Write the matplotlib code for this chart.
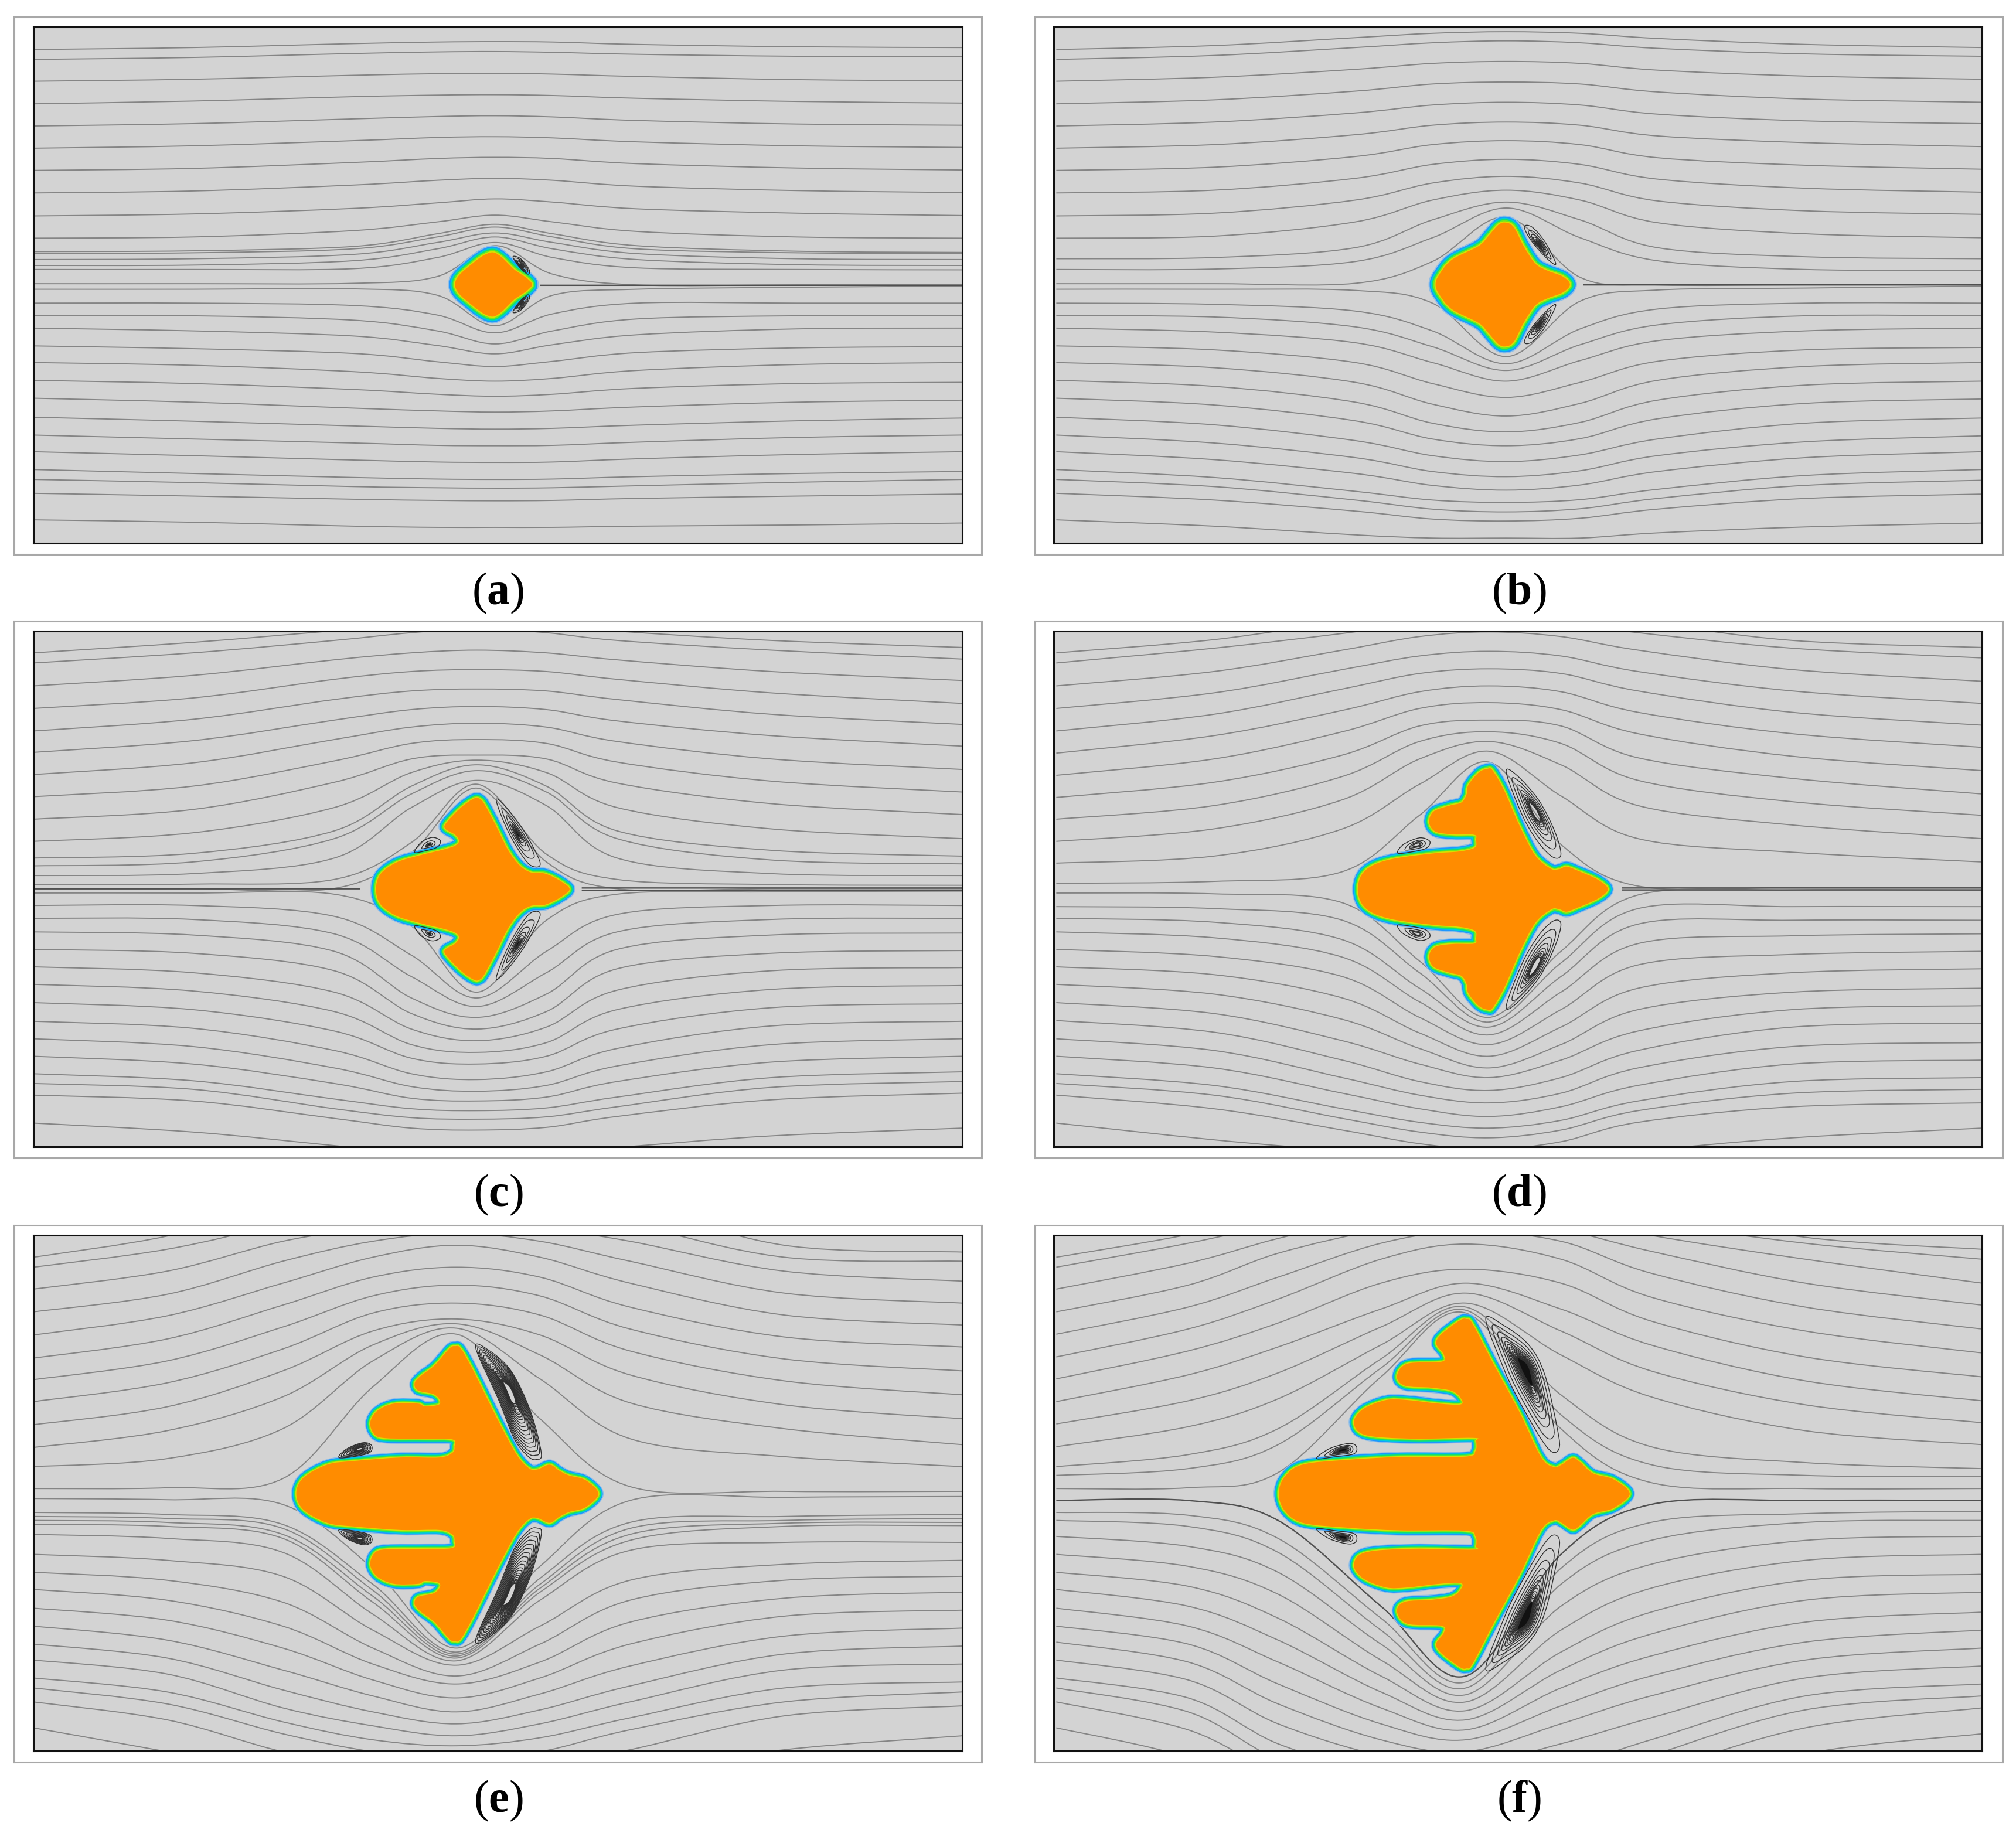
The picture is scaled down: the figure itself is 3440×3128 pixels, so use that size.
import matplotlib
matplotlib.use("Agg")
import matplotlib.pyplot as plt
import numpy as np
from matplotlib.path import Path
from matplotlib.patches import PathPatch

W, H = 3441, 3128
GREY_BG = "#d3d3d3"
LINE = "#858585"
RIM = ["#8fbfe8", "#1e96ff", "#00ccdc", "#10e070", "#70e820", "#d8e000"]
ORANGE = "#ff8c00"

plt.rcParams["font.family"] = ["Liberation Serif", "DejaVu Serif"]
plt.rcParams["mathtext.fontset"] = "custom"
plt.rcParams["mathtext.rm"] = "Liberation Serif"
plt.rcParams["mathtext.bf"] = "Liberation Serif:bold"

labels = ["a", "b", "c", "d", "e", "f"]

# each panel: x columns, then y of every streamline at those columns
a_x = [52, 300, 550, 680, 770, 860, 990, 1240, 1497]
a_lines = [
    [125, 120, 110, 106, 105, 106, 112, 118, 120],
    [150, 145, 135, 131, 130, 132, 137, 142, 143],
    [205, 200, 190, 186, 185, 187, 193, 201, 204],
    [262, 255, 244, 240, 239, 241, 248, 256, 260],
    [318, 312, 300, 294, 292, 295, 304, 313, 316],
    [374, 368, 355, 347, 345, 348, 358, 368, 372],
    [430, 425, 410, 400, 397, 400, 413, 424, 429],
    [487, 482, 467, 455, 450, 455, 470, 481, 486],
    [545, 540, 526, 512, 502, 510, 527, 538, 544],
    [601, 598, 582, 560, 543, 560, 584, 598, 601],
    [635, 633, 622, 590, 566, 590, 620, 634, 637],
    [640, 638, 628, 598, 573, 598, 628, 638, 640],
    [655, 653, 642, 612, 588, 612, 640, 653, 655],
    [670, 669, 658, 628, 598, 628, 655, 668, 670],
    [680, 680, 678, 650, 612, 650, 676, 680, 681],
    [716, 716, 715, 698, 620, 692, 719, 719, 719],
    [730, 730, 729, 745, 822, 745, 730, 725, 722],
    [765, 765, 771, 795, 840, 792, 765, 765, 765],
    [797, 797, 808, 835, 868, 835, 805, 797, 797],
    [828, 835, 848, 872, 893, 870, 845, 830, 828],
    [873, 880, 892, 913, 925, 912, 890, 878, 875],
    [915, 922, 938, 955, 962, 955, 935, 920, 915],
    [960, 968, 983, 995, 1000, 995, 980, 968, 965],
    [1005, 1015, 1030, 1037, 1040, 1037, 1027, 1015, 1010],
    [1053, 1063, 1075, 1081, 1083, 1081, 1073, 1062, 1055],
    [1098, 1108, 1118, 1124, 1125, 1124, 1116, 1104, 1098],
    [1140, 1150, 1161, 1166, 1167, 1166, 1158, 1147, 1140],
    [1185, 1195, 1205, 1209, 1210, 1209, 1203, 1195, 1190],
    [1210, 1218, 1228, 1231, 1232, 1231, 1226, 1217, 1210],
    [1245, 1252, 1260, 1263, 1264, 1263, 1258, 1252, 1247],
    [1312, 1318, 1328, 1331, 1331, 1331, 1328, 1325, 1320],
]
b_x = [75, 320, 540, 660, 775, 890, 1010, 1240, 1515]
b_lines = [
    [125, 115, 95, 84, 80, 84, 97, 112, 120],
    [150, 140, 120, 108, 103, 108, 122, 136, 142],
    [205, 195, 175, 160, 155, 160, 177, 192, 200],
    [262, 252, 230, 212, 207, 212, 232, 250, 258],
    [318, 308, 285, 265, 258, 265, 288, 305, 312],
    [374, 365, 340, 316, 308, 316, 343, 360, 370],
    [430, 422, 395, 365, 355, 365, 398, 417, 427],
    [487, 480, 450, 415, 402, 415, 452, 475, 485],
    [545, 538, 505, 462, 445, 462, 507, 532, 541],
    [601, 596, 560, 505, 480, 505, 562, 590, 600],
    [653, 650, 625, 555, 510, 555, 625, 648, 653],
    [680, 679, 660, 600, 525, 600, 658, 680, 682],
    [716, 716, 715, 660, 548, 700, 719, 719, 719],
    [730, 730, 733, 765, 900, 760, 732, 727, 722],
    [765, 768, 785, 835, 918, 830, 780, 765, 765],
    [797, 800, 825, 875, 935, 870, 820, 797, 797],
    [828, 838, 865, 915, 962, 910, 860, 835, 828],
    [873, 883, 915, 968, 1003, 965, 912, 883, 877],
    [915, 928, 965, 1020, 1050, 1018, 960, 925, 915],
    [960, 975, 1015, 1068, 1090, 1066, 1010, 972, 962],
    [1005, 1022, 1062, 1108, 1125, 1107, 1057, 1018, 1007],
    [1053, 1072, 1112, 1150, 1165, 1148, 1108, 1068, 1055],
    [1098, 1118, 1155, 1190, 1203, 1188, 1150, 1115, 1100],
    [1140, 1160, 1195, 1225, 1237, 1224, 1190, 1155, 1140],
    [1185, 1205, 1240, 1262, 1268, 1261, 1235, 1200, 1185],
    [1210, 1228, 1262, 1285, 1292, 1284, 1258, 1225, 1212],
    [1245, 1262, 1290, 1310, 1315, 1308, 1285, 1258, 1247],
    [1312, 1328, 1350, 1358, 1358, 1358, 1345, 1330, 1320],
]
c_x = [52, 300, 520, 640, 742, 850, 960, 1200, 1497]
c_lines = [
    [112, 85, 55, 40, 30, 40, 56, 80, 98],
    [138, 112, 80, 60, 50, 60, 80, 105, 128],
    [197, 170, 130, 112, 105, 112, 130, 160, 183],
    [255, 228, 180, 160, 155, 160, 180, 215, 242],
    [313, 283, 232, 210, 205, 210, 232, 270, 296],
    [368, 338, 285, 258, 250, 258, 287, 325, 352],
    [425, 395, 335, 303, 293, 303, 340, 385, 412],
    [482, 455, 390, 345, 335, 345, 393, 442, 470],
    [540, 515, 445, 385, 375, 385, 447, 500, 528],
    [597, 575, 510, 420, 388, 420, 510, 565, 590],
    [640, 628, 570, 455, 400, 455, 570, 620, 635],
    [660, 650, 590, 475, 415, 470, 590, 645, 655],
    [685, 680, 640, 510, 440, 505, 640, 680, 685],
    [708, 707, 695, 600, 450, 630, 695, 708, 710],
    [719, 719, 718, 625, 460, 650, 719, 719, 719],
    [730, 730, 733, 815, 985, 800, 733, 727, 725],
    [762, 762, 790, 890, 1000, 880, 785, 762, 762],
    [795, 798, 835, 945, 1022, 935, 830, 798, 795],
    [830, 838, 880, 1000, 1050, 990, 875, 838, 833],
    [875, 885, 930, 1040, 1080, 1035, 925, 885, 878],
    [920, 935, 985, 1080, 1110, 1075, 980, 930, 922],
    [965, 982, 1035, 1120, 1140, 1115, 1030, 978, 968],
    [1012, 1030, 1085, 1155, 1170, 1150, 1080, 1025, 1015],
    [1060, 1078, 1135, 1195, 1210, 1190, 1130, 1072, 1060],
    [1105, 1125, 1180, 1228, 1240, 1225, 1175, 1120, 1105],
    [1150, 1170, 1220, 1258, 1265, 1255, 1215, 1165, 1150],
    [1195, 1213, 1260, 1285, 1290, 1283, 1255, 1205, 1190],
    [1220, 1235, 1285, 1308, 1312, 1306, 1280, 1230, 1215],
    [1250, 1265, 1310, 1335, 1340, 1333, 1305, 1262, 1245],
    [1322, 1345, 1380, 1400, 1405, 1400, 1385, 1355, 1335],
]
d_x = [75, 320, 520, 640, 748, 860, 980, 1220, 1515]
d_lines = [
    [112, 78, 30, 5, -10, 5, 30, 80, 98],
    [138, 100, 62, 35, 25, 35, 60, 100, 125],
    [197, 160, 105, 70, 58, 70, 105, 155, 185],
    [255, 215, 155, 120, 108, 120, 160, 210, 242],
    [313, 270, 205, 165, 153, 165, 210, 265, 298],
    [370, 325, 260, 212, 197, 212, 265, 320, 355],
    [427, 385, 315, 255, 240, 258, 320, 378, 415],
    [484, 445, 375, 300, 285, 300, 382, 435, 475],
    [540, 505, 430, 340, 315, 345, 440, 495, 530],
    [597, 565, 490, 385, 340, 400, 505, 555, 590],
    [653, 635, 565, 450, 365, 480, 590, 625, 650],
    [705, 700, 675, 530, 393, 605, 712, 716, 716],
    [730, 732, 755, 905, 1050, 880, 735, 722, 722],
    [765, 770, 800, 935, 1062, 910, 770, 765, 765],
    [795, 805, 850, 975, 1075, 945, 810, 800, 800],
    [830, 845, 895, 1010, 1095, 985, 860, 840, 835],
    [875, 893, 945, 1050, 1120, 1030, 915, 888, 880],
    [920, 940, 1000, 1090, 1150, 1075, 975, 935, 925],
    [965, 990, 1055, 1130, 1180, 1120, 1030, 985, 975],
    [1012, 1040, 1110, 1170, 1205, 1160, 1085, 1030, 1020],
    [1058, 1088, 1160, 1215, 1238, 1205, 1135, 1075, 1065],
    [1105, 1135, 1205, 1250, 1270, 1245, 1180, 1125, 1115],
    [1150, 1180, 1245, 1285, 1305, 1280, 1225, 1170, 1160],
    [1195, 1225, 1285, 1320, 1335, 1315, 1265, 1215, 1205],
    [1220, 1250, 1310, 1345, 1360, 1340, 1290, 1245, 1235],
    [1250, 1285, 1340, 1375, 1390, 1370, 1320, 1280, 1270],
    [1322, 1365, 1395, 1420, 1430, 1420, 1395, 1360, 1335],
]
e_x = [52, 260, 440, 580, 710, 840, 980, 1220, 1497]
e_lines = [
    [125, 72, -10, -60, -100, -60, -10, 95, 112],
    [150, 105, 40, -15, -50, -15, 40, 125, 135],
    [205, 160, 85, 50, 25, 50, 85, 160, 185],
    [262, 218, 135, 85, 65, 85, 135, 215, 240],
    [320, 272, 190, 125, 95, 125, 190, 270, 295],
    [378, 330, 245, 175, 150, 175, 250, 325, 350],
    [432, 385, 300, 222, 195, 222, 305, 380, 410],
    [487, 440, 355, 265, 240, 270, 360, 435, 470],
    [545, 500, 410, 310, 280, 320, 420, 495, 530],
    [602, 560, 475, 345, 292, 370, 490, 555, 595],
    [650, 630, 555, 385, 303, 430, 580, 625, 650],
    [705, 703, 680, 450, 318, 530, 700, 712, 712],
    [730, 733, 745, 905, 1105, 900, 735, 727, 725],
    [765, 770, 795, 945, 1115, 930, 790, 775, 770],
    [775, 780, 805, 960, 1120, 945, 805, 785, 780],
    [785, 790, 820, 975, 1125, 955, 820, 792, 790],
    [795, 800, 830, 990, 1130, 965, 835, 800, 798],
    [820, 830, 865, 1020, 1137, 985, 860, 840, 840],
    [870, 885, 925, 1060, 1148, 1050, 935, 895, 885],
    [915, 935, 990, 1105, 1175, 1095, 985, 935, 925],
    [958, 985, 1050, 1145, 1195, 1140, 1040, 980, 965],
    [1005, 1035, 1105, 1185, 1230, 1180, 1095, 1025, 1010],
    [1050, 1085, 1160, 1225, 1265, 1220, 1150, 1075, 1055],
    [1095, 1130, 1210, 1265, 1295, 1260, 1200, 1120, 1100],
    [1135, 1170, 1255, 1300, 1325, 1295, 1240, 1160, 1145],
    [1180, 1215, 1290, 1335, 1350, 1330, 1280, 1205, 1190],
    [1205, 1245, 1320, 1365, 1385, 1365, 1310, 1240, 1215],
    [1240, 1285, 1365, 1400, 1420, 1400, 1360, 1275, 1250],
    [1305, 1365, 1420, 1450, 1470, 1450, 1420, 1360, 1325],
]
f_x = [75, 280, 420, 580, 712, 860, 1000, 1240, 1515]
f_lines = [
    [125, 68, 10, -60, -110, -60, 0, 75, 105],
    [150, 90, 40, -20, -60, -20, 35, 90, 130],
    [205, 140, 78, 20, -20, 20, 70, 130, 190],
    [262, 195, 115, 55, 25, 55, 110, 190, 245],
    [318, 250, 175, 90, 60, 85, 165, 250, 305],
    [375, 305, 230, 130, 92, 130, 225, 310, 365],
    [430, 360, 290, 190, 155, 190, 285, 375, 425],
    [487, 420, 350, 255, 190, 255, 345, 435, 485],
    [543, 485, 415, 300, 215, 310, 410, 495, 540],
    [600, 550, 480, 345, 240, 370, 475, 560, 595],
    [650, 620, 555, 380, 250, 470, 600, 640, 655],
    [672, 655, 595, 403, 258, 520, 645, 672, 675],
    [705, 703, 665, 425, 265, 555, 690, 705, 705],
    [765, 772, 830, 1030, 1190, 905, 790, 768, 762],
    [785, 800, 865, 1060, 1205, 945, 835, 790, 785],
    [825, 850, 915, 1095, 1222, 1000, 895, 835, 825],
    [870, 900, 970, 1135, 1240, 1060, 955, 885, 870],
    [915, 950, 1030, 1175, 1262, 1115, 1015, 935, 920],
    [958, 1000, 1085, 1215, 1285, 1160, 1070, 985, 965],
    [1005, 1050, 1140, 1255, 1310, 1205, 1125, 1040, 1015],
    [1050, 1095, 1195, 1295, 1335, 1250, 1175, 1090, 1060],
    [1090, 1140, 1245, 1335, 1365, 1295, 1225, 1135, 1105],
    [1135, 1185, 1295, 1375, 1400, 1345, 1280, 1180, 1150],
    [1180, 1230, 1345, 1420, 1440, 1405, 1335, 1225, 1195],
    [1205, 1265, 1385, 1465, 1490, 1450, 1375, 1260, 1225],
    [1240, 1310, 1420, 1500, 1530, 1490, 1420, 1305, 1255],
    [1305, 1380, 1490, 1570, 1600, 1560, 1480, 1370, 1320],
]
# dark lines: x values, y values
a_dark = [([840, 1497], [720, 720])]
b_dark = [([895, 1515], [719, 719])]
c_dark = [([52, 560], [719, 719]), ([905, 1497], [717, 717]), ([905, 1497], [723, 723])]
d_dark = [([955, 1515], [717, 717]), ([955, 1515], [722, 722])]
e_dark = []
f_dark = [([75, 280, 420, 580, 712, 860, 1000, 1240, 1515], [735, 735, 785, 1000, 1175, 870, 745, 735, 735])]

# upper half of the body, left tip to right tip
a_body = [(708, 718), (714, 695), (735, 665), (752, 645), (767, 637), (781, 650), (800, 680), (818, 700), (826, 712), (827, 718)]
b_body = [(665, 718), (670, 695), (690, 656), (732, 621), (747, 596), (763, 567), (775, 562), (787, 574), (802, 621), (820, 665), (839, 683), (863, 698), (874, 718)]
c_body = [(585, 720), (592, 681), (617, 651), (653, 633), (690, 618), (708, 608), (714, 596), (708, 580), (693, 565), (694, 550), (717, 510), (737, 487), (746, 487), (754, 502), (772, 558), (790, 618), (808, 658), (826, 677), (848, 680), (872, 699), (886, 720)]
d_body = [(544, 720), (550, 683), (568, 658), (602, 641), (662, 628), (702, 623), (726, 613), (728, 593), (725, 580), (693, 579), (665, 572), (655, 548), (662, 520), (687, 505), (705, 497), (713, 477), (716, 452), (732, 420), (746, 410), (754, 415), (772, 467), (796, 558), (820, 633), (845, 668), (858, 668), (869, 662), (887, 673), (918, 696), (933, 720)]
e_body = [(461, 718), (472, 678), (509, 645), (550, 636), (624, 627), (684, 627), (704, 615), (707, 600), (704, 582), (661, 580), (602, 579), (583, 570), (576, 540), (587, 510), (613, 492), (650, 492), (661, 499), (682, 495), (684, 483), (674, 468), (650, 459), (645, 441), (654, 423), (676, 396), (699, 354), (708, 348), (717, 354), (736, 408), (773, 528), (803, 618), (823, 654), (836, 657), (855, 645), (870, 660), (885, 672), (911, 684), (931, 718)]
f_body = [(421, 718), (430, 676), (458, 645), (527, 633), (609, 626), (711, 625), (727, 611), (728, 586), (723, 578), (629, 580), (556, 571), (538, 540), (552, 506), (588, 483), (621, 483), (670, 492), (704, 494), (704, 478), (690, 460), (658, 452), (617, 447), (605, 423), (621, 392), (674, 387), (678, 370), (666, 342), (674, 318), (702, 284), (713, 280), (723, 293), (755, 392), (796, 515), (829, 626), (849, 651), (861, 645), (878, 628), (890, 639), (910, 667), (942, 682), (967, 718)]

# recirculation cells in the upper half: outer contour and centre
a_cells = [([(798, 648), (810, 653), (823, 680), (821, 692), (808, 674)], (811, 670))]
b_cells = [([(803, 573), (815, 573), (835, 610), (852, 665), (840, 655), (815, 610)], (826, 617))]
c_cells = [([(772, 492), (785, 505), (815, 570), (840, 650), (830, 662), (815, 640), (790, 570)], (805, 578)),
           ([(645, 625), (655, 600), (672, 587), (685, 595), (680, 612), (660, 622)], (668, 605))]
d_cells = [([(775, 420), (790, 425), (825, 490), (850, 570), (860, 630), (848, 638), (825, 600), (800, 530)], (820, 520)),
           ([(606, 627), (615, 605), (640, 588), (656, 597), (650, 615), (625, 625)], (637, 605))]
e_cells = [([(740, 352), (760, 358), (795, 410), (825, 510), (842, 615), (835, 632), (822, 625), (800, 580), (775, 480)], (793, 460)),
           ([(527, 627), (540, 605), (565, 590), (578, 597), (575, 615), (550, 625)], (560, 605))]
f_cells = [([(743, 280), (770, 295), (810, 345), (835, 420), (855, 560), (857, 605), (845, 612), (825, 570), (790, 470), (770, 400)], (805, 403)),
           ([(480, 630), (500, 605), (530, 592), (542, 600), (538, 618), (510, 625)], (522, 608))]

# contour levels as fractions of the outer cell contour, last one filled if the panel has a solid core
a_levels = [1, .8, .6, .45, .3, .15]
b_levels = [1, .72, .52, .38, .28, .2, .14, .09]
c_levels = [1, .74, .52, .36, .26, .19, .14, .1]
d_levels = [1, .8, .63, .5, .4, .33, .28, .24, .21]
e_levels = [1, .94, .88, .82, .76, .7, .64, .58, .52, .47, .42, .38, .34, .31, .28, .25, .23, .21, .19]
f_levels = [1, .84, .7, .6, .52, .46, .41, .37, .33, .3, .27, .25, .23, .21]
solid_core = [True, True, True, False, False, True]

panels = [
    (a_x, a_lines, a_dark, a_body, a_cells, 718, a_levels),
    (b_x, b_lines, b_dark, b_body, b_cells, 718, b_levels),
    (c_x, c_lines, c_dark, c_body, c_cells, 720, c_levels),
    (d_x, d_lines, d_dark, d_body, d_cells, 720, d_levels),
    (e_x, e_lines, e_dark, e_body, e_cells, 718, e_levels),
    (f_x, f_lines, f_dark, f_body, f_cells, 718, f_levels),
]
# pixel boxes in the figure
outer_x = [(24, 1675), (1766, 3417)]
inner_x = [(57, 1642), (1798, 3382)]
outer_y = [(29, 946), (1060, 1976), (2091, 3007)]
inner_y = [(46, 927), (1077, 1957), (2108, 2988)]
data_x = [(52, 1497), (71, 1515)]
data_y = [(1371, 68), (1383, 56), (1363, 70)]
label_y = [1012, 2039, 3073]
label_x = [850, 2592]
rim_px = [12, 12, 10, 10, 9, 9]


def bezier(pts, closed=False):
    # catmull-rom control points, matplotlib draws the curve
    p = np.array(pts, dtype=float)
    n = len(p)
    verts = [p[0]]
    codes = [Path.MOVETO]
    stop = n if closed else n - 1
    for i in range(stop):
        if closed:
            p0, p1, p2, p3 = p[(i - 1) % n], p[i], p[(i + 1) % n], p[(i + 2) % n]
        else:
            p0, p1, p2, p3 = p[max(i - 1, 0)], p[i], p[i + 1], p[min(i + 2, n - 1)]
        verts += [p1 + (p2 - p0) / 6, p2 - (p3 - p1) / 6, p2]
        codes += [Path.CURVE4] * 3
    if closed:
        verts.append(p[0])
        codes.append(Path.CLOSEPOLY)
    return Path(verts, codes)


def box(x0, x1, y0, y1):
    return [x0 / W, 1 - y1 / H, (x1 - x0) / W, (y1 - y0) / H]


fig = plt.figure(figsize=(W / 100, H / 100), dpi=100)

for k, (xs, lines, dark, body, cells, mid, levels) in enumerate(panels):
    col, row = k % 2, k // 2
    frame = fig.add_axes(box(*outer_x[col], *outer_y[row]))
    frame.set_xticks([])
    frame.set_yticks([])
    for s in frame.spines.values():
        s.set_color("#a8a8a8")
        s.set_linewidth(2.2)

    ax = fig.add_axes(box(*inner_x[col], *inner_y[row]), facecolor=GREY_BG)
    ax.set_xlim(*data_x[col])
    ax.set_ylim(*data_y[row])
    ax.set_xticks([])
    ax.set_yticks([])
    for s in ax.spines.values():
        s.set_color("#111111")
        s.set_linewidth(2.2)
        s.set_zorder(10)

    for ys in lines:
        ax.add_patch(PathPatch(bezier(list(zip(xs, ys))), fc="none", ec=LINE, lw=1.4, zorder=2))
    for dx, dy in dark:
        ax.add_patch(PathPatch(bezier(list(zip(dx, dy))), fc="none", ec="#505050", lw=1.7, zorder=2))

    # cells, upper and mirrored lower; the small side cells get every second level
    for n_cell, (outline, core) in enumerate(cells):
        outline = np.array(outline, dtype=float)
        core = np.array(core, dtype=float)
        use = levels if n_cell == 0 else levels[::2]
        for flip in (False, True):
            for s in use:
                q = core + (outline - core) * s
                if flip:
                    q[:, 1] = 2 * mid - q[:, 1]
                solid = solid_core[k] and s == use[-1]
                ax.add_patch(PathPatch(bezier(q, closed=True), fc="#111111" if solid else "none",
                                       ec="#2e2e2e", lw=1.0, zorder=4.8))

    top = np.array(body, dtype=float)
    low = top[-2:0:-1].copy()
    low[:, 1] = 2 * mid - low[:, 1]
    outline = bezier(np.vstack([top, low]), closed=True)
    for j, c in enumerate(RIM):
        w = rim_px[k] * (1 - j / len(RIM))
        ax.add_patch(PathPatch(outline, fc="none", ec=c, lw=2 * w * 0.72, joinstyle="round", zorder=4 + j * 0.1))
    ax.add_patch(PathPatch(outline, fc=ORANGE, ec="none", zorder=5))

    fig.text(label_x[col] / W, 1 - label_y[row] / H, "($\\mathbf{%s}$)" % labels[k],
             ha="center", va="center", fontsize=56, color="black")

fig.savefig("out.png", dpi=100)
